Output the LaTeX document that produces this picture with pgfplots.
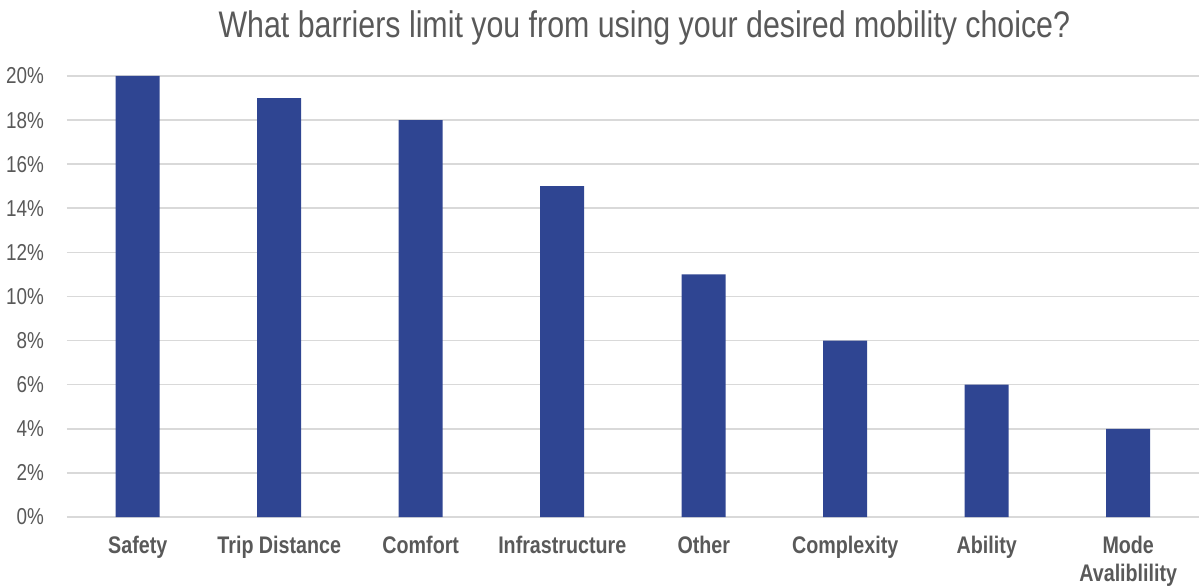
\documentclass[border=0pt]{standalone}
\usepackage{pgfplots}
\pgfplotsset{compat=1.18}
\usepackage{fontspec}
\setmainfont[FakeStretch=0.82]{Liberation Sans}
\definecolor{barblue}{HTML}{2F4592}
\definecolor{txtgray}{HTML}{595959}
\definecolor{gridgray}{HTML}{D9D9D9}
\begin{document}
\begin{tikzpicture}
\useasboundingbox (-33.5bp,-35bp) rectangle (566bp,258.5bp);
\begin{axis}[
  at={(0,0)}, anchor=south west,
  scale only axis,
  width=566bp, height=220.5bp,
  xmin=-0.5, xmax=7.5,
  ymin=0, ymax=20,
  ytick={0,2,...,20},
  yticklabel={\pgfmathprintnumber{\tick}\%},
  xtick=data,
  xticklabels={Safety,Trip Distance,Comfort,Infrastructure,Other,Complexity,Ability,{Mode\\Avaliblility}},
  axis line style={draw=none},
  major tick length=0pt,
  ymajorgrids,
  grid style={gridgray, line width=0.8bp},
  tick label style={text=txtgray},
  yticklabel style={font=\fontsize{11.5bp}{13bp}\selectfont, xshift=-8bp},
  xticklabel style={font=\bfseries\fontsize{12bp}{14bp}\selectfont, align=center, yshift=-6bp},
  /pgf/number format/assume math mode=true,
  title={What barriers limit you from using your desired mobility choice?},
  title style={font=\fontsize{18.5bp}{20bp}\selectfont, text=txtgray, at={(rel axis cs:0.51,1)}, anchor=base, yshift=13.5bp},
  clip=false,
]
\addplot[ybar, bar width=22bp, fill=barblue, draw=none] coordinates {
(0,20) (1,19) (2,18) (3,15) (4,11) (5,8) (6,6) (7,4)
};
\end{axis}
\end{tikzpicture}
\end{document}
